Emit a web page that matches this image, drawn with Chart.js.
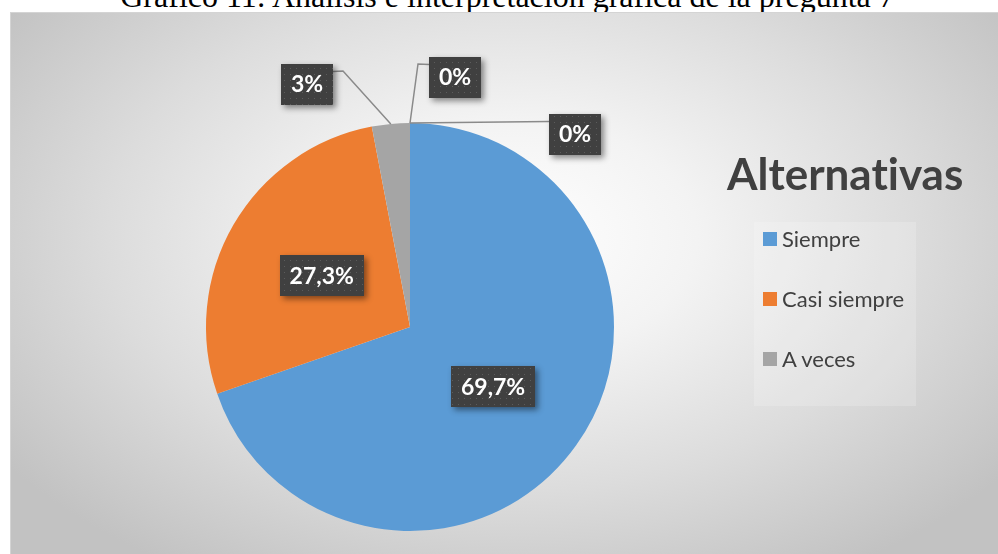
<!DOCTYPE html>
<html>
<head>
<meta charset="utf-8">
<script src="https://cdn.jsdelivr.net/npm/chart.js@4.4.1/dist/chart.umd.min.js"></script>
<style>
  html, body { margin: 0; padding: 0; background: #fff; }
  body { width: 998px; height: 554px; position: relative; overflow: hidden; }
  #titulo {
    position: absolute; left: 0; top: -20px; width: 1015px; text-align: center;
    font-family: "Liberation Serif", "Times New Roman", serif; font-size: 32px; line-height: 32px; color: #000;
    white-space: nowrap;
  }
  #marco {
    position: absolute; left: 10px; top: 12px; width: 1000px; height: 560px;
    border: 1px solid #d4d4d4;
    background: radial-gradient(ellipse 62% 70% at 50% 40%, #ffffff 0%, #f3f3f3 30%, #dcdcdc 65%, #c2c2c2 100%);
  }
  #grafico { position: absolute; left: 0; top: 0; }
  #leyenda-titulo {
    position: absolute; left: 727px; top: 151px; font-family: Lato, sans-serif; font-weight: 700;
    font-size: 44px; line-height: 44px; color: #404040; white-space: nowrap;
    font-variant-ligatures: none; font-feature-settings: "liga" 0;
  }
  #leyenda {
    position: absolute; left: 754px; top: 222px; width: 162px; height: 184px;
    background: rgba(255,255,255,0.18);
  }
  .item { position: absolute; left: 9px; height: 22px; font-family: Lato, sans-serif; font-size: 22px;
    line-height: 22px; color: #404040; white-space: nowrap; }
  .item span.cuadro { position: absolute; left: 0; top: 3px; width: 14px; height: 14px; }
  .item span.txt { position: absolute; left: 19px; top: -1px; }
</style>
</head>
<body>
<div id="titulo">Gráfico 11: Análisis e interpretación gráfica de la pregunta 7</div>
<div id="marco"></div>
<canvas id="grafico" width="998" height="554"></canvas>
<div id="leyenda-titulo">Alternativas</div>
<div id="leyenda"></div>
<script>
// datos de la pregunta 7
const categorias = ['Siempre', 'Casi siempre', 'A veces', 'Casi nunca', 'Nunca'];
const porcentajes = [69.7, 27.3, 3, 0, 0];
const etiquetas = ['69,7%', '27,3%', '3%', '0%', '0%'];
const colores = ['#5B9BD5', '#ED7D31', '#A5A5A5', '#FFC000', '#4472C4'];
const enLeyenda = 3; // solo las tres primeras aparecen en la leyenda

// ubicación de las etiquetas externas (relativa al centro del pie)
const externas = {
    2: { dx: -103, dy: -243, codo: [-67, -256], ancla: 'der' },
    3: { dx: 45, dy: -250, codo: [8, -263], ancla: 'izq' },
    4: { dx: 165, dy: -193, codo: null, ancla: 'izq' }
};

// trama de puntos para las cajas
const trama = document.createElement('canvas');
trama.width = 6; trama.height = 6;
const tctx = trama.getContext('2d');
tctx.fillStyle = '#404040';
tctx.fillRect(0, 0, 6, 6);
tctx.fillStyle = '#5c5c5c';
tctx.fillRect(2, 2, 1, 1);

const pluginEtiquetas = {
    id: 'etiquetas',
    afterDatasetsDraw(chart) {
        const ctx = chart.ctx;
        const arcos = chart.getDatasetMeta(0).data;
        ctx.save();
        ctx.font = 'bold 23px Lato';
        arcos.forEach((arco, i) => {
            const p = arco.getProps(['x', 'y', 'startAngle', 'endAngle', 'outerRadius']);
            const medio = (p.startAngle + p.endAngle) / 2;
            const texto = etiquetas[i];
            const w = Math.round(ctx.measureText(texto).width) + 20;
            const h = 41;
            let cx, cy;
            const ext = externas[i];
            if (ext) {
                cx = p.x + ext.dx; cy = p.y + ext.dy;
                // línea guía
                const bx = ext.ancla === 'der' ? cx + w / 2 : cx - w / 2;
                const by = cy - h / 2 + 8;
                ctx.strokeStyle = '#8a8a8a';
                ctx.lineWidth = 1.5;
                ctx.beginPath();
                ctx.moveTo(bx, by);
                if (ext.codo) ctx.lineTo(p.x + ext.codo[0], p.y + ext.codo[1]);
                ctx.lineTo(p.x + Math.cos(medio) * p.outerRadius, p.y + Math.sin(medio) * p.outerRadius);
                ctx.stroke();
            } else {
                cx = p.x + Math.cos(medio) * p.outerRadius * 0.5;
                cy = p.y + Math.sin(medio) * p.outerRadius * 0.5;
            }
            const x0 = Math.round(cx - w / 2), y0 = Math.round(cy - h / 2);
            ctx.save();
            ctx.shadowColor = 'rgba(0,0,0,0.45)';
            ctx.shadowBlur = 6;
            ctx.shadowOffsetX = 3;
            ctx.shadowOffsetY = 3;
            ctx.fillStyle = '#404040';
            ctx.fillRect(x0, y0, w, h);
            ctx.restore();
            ctx.fillStyle = ctx.createPattern(trama, 'repeat');
            ctx.fillRect(x0, y0, w, h);
            ctx.fillStyle = '#ffffff';
            ctx.textAlign = 'center';
            ctx.textBaseline = 'middle';
            ctx.fillText(texto, cx, cy + 1);
        });
        ctx.restore();
    }
};

new Chart(document.getElementById('grafico').getContext('2d'), {
    type: 'pie',
    data: {
        labels: categorias,
        datasets: [{
            data: porcentajes,
            backgroundColor: colores,
            borderWidth: 0,
            hoverOffset: 0,
            offset: 0
        }]
    },
    options: {
        responsive: false,
        animation: false,
        events: [],
        devicePixelRatio: 1,
        layout: { padding: { left: 206, top: 123, right: 384, bottom: 23 } },
        plugins: {
            legend: { display: false },
            tooltip: { enabled: false }
        }
    },
    plugins: [pluginEtiquetas]
});

// leyenda
const leyenda = document.getElementById('leyenda');
categorias.slice(0, enLeyenda).forEach((nombre, i) => {
    const d = document.createElement('div');
    d.className = 'item';
    d.style.top = (7 + i * 60) + 'px';
    d.innerHTML = '<span class="cuadro" style="background:' + colores[i] + '"></span><span class="txt">' + nombre + '</span>';
    leyenda.appendChild(d);
});
</script>
</body>
</html>
